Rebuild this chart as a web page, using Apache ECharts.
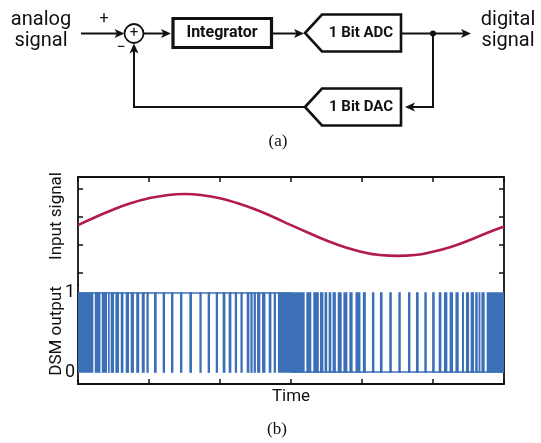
<!DOCTYPE html>
<html>
<head>
<meta charset="utf-8">
<style>
  html, body { margin: 0; padding: 0; background: #fff; }
  #main { width: 541px; height: 443px; }
</style>
<script src="https://cdn.jsdelivr.net/npm/echarts@6/dist/echarts.min.js"></script>
</head>
<body>
<div id="main"></div>
<script>
// time in DSM clock samples
const timeTicks = [0, 50, 100, 150, 200, 250, 300]
const inputTime = [0, 12.5, 25, 37.5, 50, 62.5, 75, 87.5, 100, 112.5, 125, 137.5, 150,
  162.5, 175, 187.5, 200, 212.5, 225, 237.5, 250, 262.5, 275, 287.5, 300]
const inputSignal = [0.21, 0.50, 0.77, 1.00, 1.17, 1.28, 1.32, 1.28, 1.17, 0.99, 0.77, 0.50, 0.21,
  -0.07, -0.34, -0.57, -0.75, -0.86, -0.89, -0.86, -0.74, -0.57, -0.34, -0.08, 0.16]
const inputTicks = [-1.5, -0.5, 0.5, 1.5]

// stretches where the DSM output toggles (show up solid blue), [from, to] in samples
const dsmBusy = [
  [0, 10.8], [11.8, 15.8], [16.7, 20.4], [21.1, 22.3], [23.0, 25.4], [26.3, 28.9],
  [30.1, 32.0], [33.6, 35.9], [37.1, 39.4], [41.0, 43.1], [44.9, 47.0], [48.2, 49.8],
  [53.5, 55.4], [59.6, 61.3], [65.5, 67.2], [71.8, 73.5], [78.4, 80.3], [85.5, 87.1],
  [91.3, 93.0], [97.0, 98.6], [101.9, 103.8], [106.1, 108.0], [110.4, 112.0], [114.4, 116.0],
  [118.8, 120.7], [121.4, 123.0], [123.7, 125.3], [126.1, 128.4], [129.6, 132.0],
  [134.3, 136.2], [137.8, 139.4], [140.8, 159.6],
  [160.8, 164.3], [165.7, 169.6], [170.4, 172.8], [173.6, 175.5], [176.5, 178.4],
  [179.3, 181.6], [182.9, 185.7], [186.9, 189.7], [191.1, 193.4], [195.4, 198.9],
  [200.6, 202.7], [207.0, 208.7], [212.6, 214.5], [219.2, 221.0], [225.6, 227.3],
  [232.4, 234.1], [238.0, 239.9], [243.9, 245.6], [249.4, 251.2], [254.0, 255.9],
  [257.7, 260.1], [261.7, 264.1], [265.8, 268.1], [270.4, 271.8], [273.2, 275.4],
  [276.5, 278.9], [279.7, 281.5], [282.1, 283.4], [284.1, 286.4], [287.8, 300]
]
// level held between the fast stretches
const dsmHeldHigh = [[0, 1], [150, 1]]
const dsmHeldLow = [[150, 0], [300, 0]]
const dsmTicks = [0, 1]

const blue = '#3b6fb7'
const red = '#b31a4d'
const ink = '#111'
const sans = 'Roboto, "DejaVu Sans", sans-serif'

const chart = echarts.init(document.getElementById('main'))

function head(x, y, dir) {
  const L = 10, W = 4.5, n = 2.5
  let pts
  if (dir === 'r') pts = [[x, y], [x - L, y - W], [x - L + n, y], [x - L, y + W]]
  if (dir === 'l') pts = [[x, y], [x + L, y - W], [x + L - n, y], [x + L, y + W]]
  if (dir === 'u') pts = [[x, y], [x - W, y + L], [x, y + L - n], [x + W, y + L]]
  return { type: 'polygon', shape: { points: pts }, style: { fill: ink } }
}
function wire(points) {
  return { type: 'polyline', shape: { points: points }, style: { stroke: ink, lineWidth: 2, fill: null } }
}
function label(x, y, text, size, extra) {
  return {
    type: 'text', x: x, y: y,
    style: Object.assign({ text: text, fill: ink, font: size + 'px ' + sans, align: 'center', verticalAlign: 'middle' }, extra || {})
  }
}
function block(points, text, y) {
  return [
    { type: 'polygon', shape: { points: points }, style: { fill: '#fff', stroke: ink, lineWidth: 2.6 } },
    label(361, y, text, 15, { font: 'bold 15px ' + sans })
  ]
}

const graphics = [
  label(41, 20, 'analog', 20),
  label(41, 41, 'signal', 20),
  label(104, 19, '+', 16),
  label(121, 48, '−', 16),
  wire([[81, 33.5], [118, 33.5]]), head(124.5, 33.5, 'r'),
  { type: 'circle', shape: { cx: 134, cy: 33.5, r: 9.5 }, style: { fill: '#fff', stroke: ink, lineWidth: 1.8 } },
  label(134, 33, '+', 15),
  wire([[143.5, 33.5], [165, 33.5]]), head(171, 33.5, 'r'),
  { type: 'rect', shape: { x: 173, y: 18.5, width: 98.5, height: 29 }, style: { fill: '#fff', stroke: ink, lineWidth: 3.2 } },
  label(222, 33, 'Integrator', 16, { font: 'bold 16px ' + sans }),
  wire([[273, 33.5], [298, 33.5]]), head(304, 33.5, 'r'),
  ...block([[305, 33], [322, 14.5], [401, 14.5], [401, 51.5], [322, 51.5]], '1 Bit ADC', 33),
  wire([[402, 33.5], [465, 33.5]]), head(471, 33.5, 'r'),
  { type: 'circle', shape: { cx: 433, cy: 33.5, r: 3 }, style: { fill: ink } },
  wire([[433, 33.5], [433, 107], [412, 107]]), head(405, 107, 'l'),
  ...block([[305, 107], [322, 88.5], [401, 88.5], [401, 125.5], [322, 125.5]], '1 Bit DAC', 107),
  wire([[305, 107], [134, 107], [134, 50]]), head(134, 43.5, 'u'),
  label(508, 20, 'digital', 20),
  label(508, 41, 'signal', 20),
  label(278, 142, '(a)', 17, { font: '17px "Liberation Serif", "DejaVu Serif", serif' }),
  label(277, 430, '(b)', 17, { font: '17px "Liberation Serif", "DejaVu Serif", serif' }),
  label(57, 216, 'Input signal', 17, { }),
  label(57, 331, 'DSM output', 17, { }),
  label(291, 397, 'Time', 17)
]
graphics[graphics.length - 3].rotation = Math.PI / 2
graphics[graphics.length - 2].rotation = Math.PI / 2

const frame = { show: true, onZero: false, lineStyle: { color: ink, width: 1.8 } }
const tickIn = { show: true, inside: true, length: 5, lineStyle: { color: ink, width: 1.5 } }

chart.setOption({
  animation: false,
  grid: [
    { left: 78, right: 37, top: 177, height: 108 },
    { left: 78, right: 37, top: 285, height: 99 }
  ],
  xAxis: [
    { type: 'value', gridIndex: 0, position: 'top', min: 0, max: 300, interval: 50,
      axisLine: frame, axisTick: tickIn, axisLabel: { show: false }, splitLine: { show: false } },
    { type: 'value', gridIndex: 1, position: 'bottom', min: 0, max: 300, interval: 50,
      axisLine: frame, axisTick: tickIn, axisLabel: { show: false }, splitLine: { show: false } }
  ],
  yAxis: [
    { type: 'value', gridIndex: 0, position: 'left', min: -1.93, max: 1.93,
      axisLine: frame, axisTick: Object.assign({ customValues: inputTicks }, tickIn),
      axisLabel: { show: false }, splitLine: { show: false } },
    { type: 'value', gridIndex: 0, position: 'right', min: -1.93, max: 1.93,
      axisLine: frame, axisTick: Object.assign({ customValues: inputTicks }, tickIn),
      axisLabel: { show: false }, splitLine: { show: false } },
    { type: 'value', gridIndex: 1, position: 'left', min: -0.15, max: 1.1,
      axisLine: frame, axisTick: { show: false }, splitLine: { show: false },
      axisLabel: { customValues: dsmTicks, color: ink, fontSize: 18, fontFamily: sans, margin: 3 } },
    { type: 'value', gridIndex: 1, position: 'right', min: -0.15, max: 1.1,
      axisLine: frame, axisTick: { show: false }, axisLabel: { show: false }, splitLine: { show: false } }
  ],
  graphic: graphics,
  series: [
    { type: 'line', xAxisIndex: 0, yAxisIndex: 0, smooth: true, symbol: 'none',
      data: inputTime.map((t, i) => [t, inputSignal[i]]),
      lineStyle: { color: red, width: 2.6 } },
    { type: 'line', xAxisIndex: 1, yAxisIndex: 2, symbol: 'none', data: dsmHeldHigh,
      lineStyle: { color: blue, width: 1.5 } },
    { type: 'line', xAxisIndex: 1, yAxisIndex: 2, symbol: 'none', data: dsmHeldLow,
      lineStyle: { color: blue, width: 1.5 } },
    { type: 'custom', xAxisIndex: 1, yAxisIndex: 2, data: dsmBusy, clip: true,
      renderItem: function (params, api) {
        const a = api.coord([api.value(0), 1])
        const b = api.coord([api.value(1), 0])
        return { type: 'rect', shape: { x: a[0], y: a[1] - 0.7, width: b[0] - a[0], height: b[1] - a[1] + 1.4 },
          style: { fill: blue } }
      } }
  ]
})
</script>
</body>
</html>
